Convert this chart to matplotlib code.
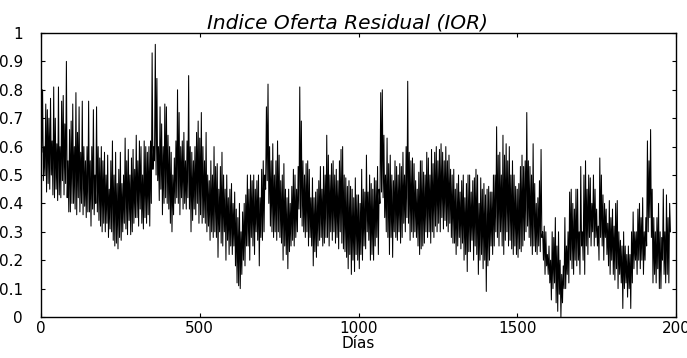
import numpy as np
import matplotlib
matplotlib.use("Agg")
import matplotlib.pyplot as plt

titulo = "Indice Oferta Residual (IOR)"
etiqueta_x = "Días"
xticks = [0, 500, 1000, 1500, 2000]
xtick_labels = ["0", "500", "1000", "1500", "200"]
yticks = [0, 0.1, 0.2, 0.3, 0.4, 0.5, 0.6, 0.7, 0.8, 0.9, 1.0]
ytick_labels = ["0", "0.1", "0.2", "0.3", "0.4", "0.5", "0.6", "0.7", "0.8", "0.9", "1"]

# local maxima (peaks) of the daily IOR series, read every ~5 days
picos = [
    0.84, 0.80, 0.60, 0.75, 0.73, 0.70, 0.77, 0.62, 0.81, 0.70,
    0.61, 0.81, 0.60, 0.76, 0.78, 0.68, 0.90, 0.55, 0.66, 0.69,
    0.75, 0.60, 0.79, 0.65, 0.74, 0.58, 0.76, 0.60, 0.55, 0.60,
    0.76, 0.55, 0.60, 0.73, 0.50, 0.74, 0.60, 0.56, 0.60, 0.55,
    0.58, 0.50, 0.57, 0.45, 0.55, 0.62, 0.50, 0.58, 0.47, 0.52,
    0.58, 0.47, 0.50, 0.63, 0.55, 0.59, 0.50, 0.56, 0.59, 0.52,
    0.64, 0.55, 0.62, 0.60, 0.50, 0.62, 0.60, 0.58, 0.60, 0.62,
    0.93, 0.60, 0.96, 0.84, 0.60, 0.74, 0.68, 0.60, 0.75, 0.74,
    0.64, 0.60, 0.58, 0.50, 0.56, 0.62, 0.80, 0.72, 0.60, 0.62,
    0.65, 0.55, 0.62, 0.85, 0.60, 0.58, 0.55, 0.60, 0.65, 0.69,
    0.63, 0.72, 0.60, 0.55, 0.65, 0.50, 0.48, 0.55, 0.50, 0.60,
    0.53, 0.54, 0.45, 0.53, 0.58, 0.50, 0.45, 0.50, 0.42, 0.45,
    0.47, 0.40, 0.44, 0.38, 0.35, 0.40, 0.30, 0.37, 0.40, 0.43,
    0.50, 0.45, 0.50, 0.48, 0.50, 0.45, 0.48, 0.50, 0.42, 0.52,
    0.55, 0.50, 0.74, 0.82, 0.60, 0.55, 0.61, 0.50, 0.55, 0.62,
    0.57, 0.48, 0.50, 0.54, 0.45, 0.42, 0.45, 0.40, 0.46, 0.52,
    0.50, 0.45, 0.53, 0.81, 0.69, 0.55, 0.50, 0.54, 0.55, 0.52,
    0.42, 0.49, 0.42, 0.44, 0.45, 0.48, 0.53, 0.45, 0.53, 0.50,
    0.64, 0.57, 0.50, 0.54, 0.55, 0.50, 0.52, 0.48, 0.55, 0.59,
    0.60, 0.50, 0.49, 0.46, 0.48, 0.46, 0.45, 0.42, 0.49, 0.43,
    0.43, 0.40, 0.52, 0.45, 0.44, 0.57, 0.44, 0.50, 0.47, 0.45,
    0.49, 0.48, 0.53, 0.45, 0.79, 0.80, 0.64, 0.50, 0.63, 0.54,
    0.57, 0.50, 0.48, 0.55, 0.53, 0.50, 0.54, 0.53, 0.58, 0.50,
    0.60, 0.83, 0.58, 0.55, 0.56, 0.54, 0.48, 0.45, 0.51, 0.55,
    0.55, 0.51, 0.50, 0.58, 0.56, 0.50, 0.59, 0.54, 0.58, 0.60,
    0.55, 0.59, 0.61, 0.58, 0.55, 0.60, 0.55, 0.57, 0.52, 0.50,
    0.52, 0.45, 0.47, 0.50, 0.44, 0.48, 0.50, 0.42, 0.47, 0.50,
    0.50, 0.44, 0.48, 0.49, 0.52, 0.50, 0.40, 0.49, 0.45, 0.47,
    0.43, 0.45, 0.46, 0.44, 0.44, 0.50, 0.50, 0.67, 0.57, 0.58,
    0.50, 0.64, 0.57, 0.61, 0.55, 0.60, 0.50, 0.55, 0.50, 0.46,
    0.45, 0.47, 0.53, 0.57, 0.53, 0.55, 0.72, 0.55, 0.53, 0.50,
    0.61, 0.47, 0.40, 0.42, 0.48, 0.59, 0.30, 0.32, 0.30, 0.22,
    0.25, 0.20, 0.30, 0.28, 0.35, 0.25, 0.30, 0.20, 0.15, 0.18,
    0.35, 0.25, 0.30, 0.44, 0.45, 0.40, 0.38, 0.45, 0.45, 0.30,
    0.53, 0.30, 0.50, 0.55, 0.45, 0.50, 0.49, 0.40, 0.50, 0.45,
    0.38, 0.32, 0.56, 0.50, 0.43, 0.40, 0.38, 0.33, 0.41, 0.35,
    0.38, 0.32, 0.40, 0.41, 0.30, 0.27, 0.25, 0.30, 0.25, 0.22,
    0.25, 0.22, 0.30, 0.37, 0.30, 0.30, 0.38, 0.40, 0.35, 0.42,
    0.30, 0.35, 0.62, 0.55, 0.66, 0.45, 0.35, 0.30, 0.35, 0.40,
    0.30, 0.28, 0.45, 0.30, 0.43, 0.35, 0.40,
]

# local minima (troughs) between consecutive peaks
valles = [
    0.58, 0.48, 0.50, 0.44, 0.47, 0.45, 0.50, 0.43, 0.42, 0.45,
    0.41, 0.43, 0.42, 0.48, 0.43, 0.47, 0.42, 0.37, 0.37, 0.40,
    0.40, 0.38, 0.36, 0.42, 0.37, 0.40, 0.36, 0.39, 0.35, 0.37,
    0.37, 0.32, 0.38, 0.36, 0.40, 0.37, 0.34, 0.32, 0.30, 0.33,
    0.30, 0.33, 0.28, 0.31, 0.30, 0.27, 0.25, 0.26, 0.24, 0.28,
    0.27, 0.30, 0.33, 0.31, 0.29, 0.34, 0.29, 0.30, 0.33, 0.35,
    0.35, 0.32, 0.38, 0.33, 0.31, 0.35, 0.33, 0.36, 0.32, 0.40,
    0.52, 0.55, 0.50, 0.48, 0.41, 0.45, 0.36, 0.40, 0.42, 0.40,
    0.38, 0.33, 0.30, 0.36, 0.40, 0.42, 0.40, 0.36, 0.42, 0.38,
    0.40, 0.38, 0.42, 0.38, 0.30, 0.34, 0.38, 0.36, 0.40, 0.33,
    0.36, 0.33, 0.35, 0.33, 0.30, 0.32, 0.27, 0.30, 0.28, 0.30,
    0.28, 0.21, 0.30, 0.26, 0.25, 0.30, 0.20, 0.27, 0.22, 0.25,
    0.22, 0.25, 0.18, 0.12, 0.11, 0.10, 0.15, 0.20, 0.18, 0.25,
    0.25, 0.20, 0.28, 0.25, 0.22, 0.30, 0.27, 0.18, 0.28, 0.27,
    0.30, 0.45, 0.48, 0.40, 0.32, 0.30, 0.28, 0.30, 0.27, 0.30,
    0.28, 0.26, 0.20, 0.25, 0.22, 0.17, 0.23, 0.25, 0.27, 0.25,
    0.28, 0.30, 0.38, 0.35, 0.32, 0.30, 0.28, 0.30, 0.25, 0.28,
    0.25, 0.18, 0.23, 0.21, 0.25, 0.27, 0.28, 0.25, 0.26, 0.28,
    0.28, 0.25, 0.30, 0.27, 0.30, 0.26, 0.28, 0.24, 0.30, 0.26,
    0.24, 0.23, 0.21, 0.17, 0.22, 0.15, 0.20, 0.16, 0.22, 0.20,
    0.17, 0.22, 0.20, 0.25, 0.24, 0.30, 0.27, 0.20, 0.22, 0.20,
    0.25, 0.28, 0.22, 0.40, 0.44, 0.42, 0.35, 0.30, 0.28, 0.22,
    0.28, 0.21, 0.30, 0.28, 0.27, 0.30, 0.26, 0.28, 0.33, 0.30,
    0.35, 0.33, 0.27, 0.30, 0.28, 0.30, 0.28, 0.25, 0.22, 0.24,
    0.25, 0.26, 0.30, 0.28, 0.30, 0.26, 0.30, 0.28, 0.32, 0.30,
    0.33, 0.30, 0.35, 0.31, 0.34, 0.32, 0.30, 0.33, 0.28, 0.26,
    0.26, 0.22, 0.25, 0.28, 0.24, 0.26, 0.20, 0.22, 0.16, 0.23,
    0.23, 0.27, 0.20, 0.25, 0.22, 0.15, 0.20, 0.22, 0.17, 0.20,
    0.09, 0.18, 0.20, 0.25, 0.22, 0.25, 0.30, 0.28, 0.25, 0.30,
    0.25, 0.22, 0.27, 0.30, 0.25, 0.27, 0.24, 0.22, 0.25, 0.22,
    0.21, 0.24, 0.23, 0.25, 0.27, 0.30, 0.32, 0.28, 0.25, 0.22,
    0.25, 0.23, 0.22, 0.25, 0.23, 0.28, 0.20, 0.15, 0.18, 0.15,
    0.12, 0.06, 0.10, 0.12, 0.05, 0.02, 0.08, 0.00, 0.05, 0.10,
    0.10, 0.15, 0.12, 0.20, 0.17, 0.15, 0.20, 0.18, 0.20, 0.15,
    0.25, 0.20, 0.15, 0.25, 0.22, 0.28, 0.25, 0.30, 0.25, 0.28,
    0.25, 0.20, 0.28, 0.25, 0.20, 0.28, 0.22, 0.18, 0.15, 0.20,
    0.15, 0.13, 0.17, 0.10, 0.15, 0.12, 0.03, 0.10, 0.12, 0.07,
    0.10, 0.03, 0.12, 0.17, 0.20, 0.15, 0.20, 0.17, 0.20, 0.15,
    0.20, 0.25, 0.30, 0.35, 0.28, 0.12, 0.15, 0.12, 0.17, 0.10,
    0.10, 0.20, 0.15, 0.12, 0.15, 0.12, 0.30,
]

paso_dias = 2.5  # days between consecutive peak/trough readings

serie = np.empty(len(picos) + len(valles))
serie[0::2] = picos
serie[1::2] = valles
dias = np.arange(len(serie)) * paso_dias

plt.rcParams["font.family"] = ["DejaVu Sans"]

fig = plt.figure(figsize=(6.87, 3.58), dpi=100)
ax = fig.add_axes([41 / 687, 41 / 358, 635 / 687, 284 / 358])
ax.plot(dias, serie, color="black", linewidth=0.75)

ax.set_xlim(0, 2000)
ax.set_ylim(0, 1)
ax.set_xticks(xticks)
ax.set_xticklabels(xtick_labels)
ax.set_yticks(yticks)
ax.set_yticklabels(ytick_labels)
ax.tick_params(direction="in", top=True, right=True, length=3, width=0.8,
               labelsize=11)
ax.tick_params(axis="y", pad=13)
ax.tick_params(axis="x", pad=3)
for s in ax.spines.values():
    s.set_linewidth(1.0)

ax.set_title(titulo, fontsize=14.5, style="italic", pad=3, x=0.483)
ax.set_xlabel(etiqueta_x, fontsize=11, labelpad=0)

fig.savefig("out.png", dpi=100)
